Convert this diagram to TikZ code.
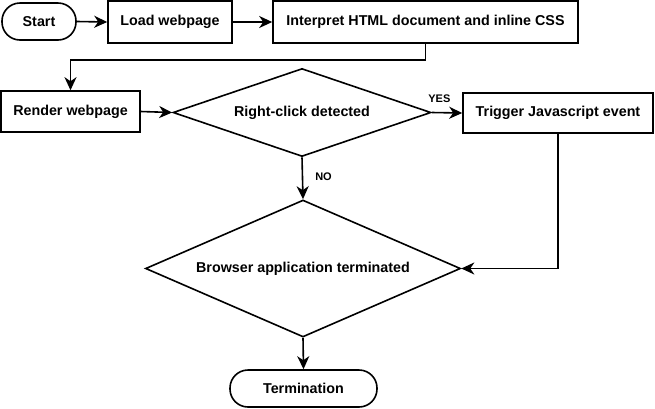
\documentclass[tikz,border=0pt]{standalone}
\usepackage{fontspec}
\setmainfont{Liberation Sans}
\usetikzlibrary{shapes.geometric,arrows.meta}
\begin{document}
\begin{tikzpicture}[x=1pt,y=-1pt,
  every node/.style={font=\fontsize{14.3}{17}\selectfont\bfseries},
  box/.style={draw,line width=1.6pt,rectangle,inner sep=0pt},
  term/.style={draw,line width=1.6pt,rectangle,rounded corners=18pt,inner sep=0pt},
  dec/.style={draw,line width=1.6pt,diamond,inner sep=0pt},
  conn/.style={line width=1.6pt,-{Stealth[length=13pt,width=12pt,inset=4pt]}},
  lbl/.style={font=\fontsize{11}{13}\selectfont\bfseries,inner sep=0pt}
]
\useasboundingbox (0,0) rectangle (655,408);
\node[term,minimum width=74pt,minimum height=37pt] (start) at (39,21.5) {Start};
\node[box,minimum width=124pt,minimum height=42pt] (load) at (170,22) {Load webpage};
\node[box,minimum width=305pt,minimum height=42pt] (interp) at (425.5,22) {Interpret HTML document and inline CSS};
\node[box,minimum width=139pt,minimum height=41pt] (render) at (70.5,111.5) {Render webpage};
\node[dec,shape aspect=2.9,minimum width=258pt,minimum height=88pt] (d1) at (302,112.5) {Right-click detected};
\node[box,minimum width=190pt,minimum height=40pt] (trig) at (558,113) {Trigger Javascript event};
\node[dec,shape aspect=2.3,minimum width=315pt,minimum height=137pt] (d2) at (303,268.5) {Browser application terminated};
\node[term,minimum width=147pt,minimum height=37pt] (end) at (303.5,388.5) {Termination};

\draw[conn] (start.east) -- (load.west);
\draw[conn] (load.east) -- (interp.west);
\draw[conn] (interp.south) -- ++(0,16) -| (render.north);
\draw[conn] (render.east) -- (d1.west);
\draw[conn] (d1.east) -- node[lbl,above=9pt,pos=0.25] (yes) {YES} (trig.west);
\draw[conn] (d1.south) -- node[lbl,right=12pt,pos=0.47] (no) {NO} (d2.north);
\draw[conn] (trig.south) |- (d2.east);
\draw[conn] (d2.south) -- (end.north);
\end{tikzpicture}
\end{document}
